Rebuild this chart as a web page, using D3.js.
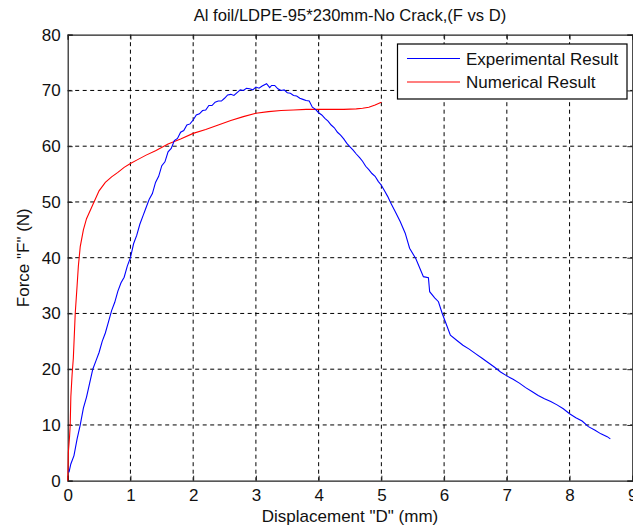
<!DOCTYPE html>
<html><head><meta charset="utf-8">
<script src="https://cdn.jsdelivr.net/npm/d3@7"></script>
<style>body{margin:0;background:#fff}svg{display:block}text{font-family:"Liberation Sans",Arial,sans-serif}</style>
</head><body><svg id="c" width="633" height="528"></svg>
<script>
const title = "Al foil/LDPE-95*230mm-No Crack,(F vs D)";
const xLabel = 'Displacement "D" (mm)';
const yLabel = 'Force "F" (N)';
const xTicks = [0,1,2,3,4,5,6,7,8,9];
const yTicks = [0,10,20,30,40,50,60,70,80];
const seriesNames = ["Experimental Result","Numerical Result"];
const seriesColors = ["#0000ff","#ff0000"];
const expX = [0.02,0.05,0.1,0.15,0.2,0.25,0.3,0.35,0.4,0.45,0.5,0.55,0.6,0.65,0.7,0.75,0.8,0.85,0.9,0.95,1.0,1.05,1.1,1.15,1.2,1.25,1.3,1.35,1.4,1.45,1.5,1.55,1.6,1.65,1.7,1.75,1.8,1.85,1.9,1.95,2.0,2.05,2.1,2.15,2.2,2.25,2.3,2.35,2.4,2.45,2.5,2.55,2.6,2.65,2.7,2.75,2.8,2.85,2.9,2.95,3.0,3.05,3.1,3.17,3.22,3.25,3.3,3.35,3.4,3.45,3.5,3.55,3.6,3.65,3.7,3.75,3.8,3.85,3.9,3.95,4.0,4.05,4.1,4.15,4.2,4.25,4.3,4.35,4.4,4.45,4.5,4.55,4.6,4.65,4.7,4.75,4.8,4.85,4.9,4.95,5.0,5.05,5.1,5.15,5.22,5.3,5.38,5.45,5.55,5.67,5.75,5.77,5.85,5.91,5.97,6.02,6.1,6.2,6.3,6.4,6.5,6.6,6.7,6.8,6.9,7.0,7.1,7.2,7.3,7.4,7.5,7.6,7.7,7.8,7.9,8.0,8.1,8.2,8.3,8.4,8.5,8.6,8.65];
const expY = [1.5,3,4.5,7.5,10,13,15,17.5,20,21.5,23,25,26.5,28.5,30.5,32,34,35.5,36.5,38.5,40,42.5,44,46,47.5,49,50.5,51.5,53.5,54.6,56.5,57.2,59,59.6,61,61.4,62.5,62.8,63.8,64.0,64.7,65.6,65.8,66.4,66.5,67.3,67.3,67.9,68.1,68.1,68.6,69.2,69.3,69.1,69.6,70.1,70.0,70.4,70.3,70.1,70.6,70.4,70.8,71.2,70.5,70.9,70.9,70.3,70.0,70.1,69.6,69.5,69.1,69.0,68.6,68.4,68.2,68.1,67.0,66.6,66.0,65.6,65.0,64.5,63.8,63.3,62.5,62.0,61.3,60.5,59.9,59.3,58.6,58.0,57.3,56.4,55.8,55.1,54.6,53.7,53.0,52.0,51.0,49.8,48.3,46.5,44.4,41.7,39.8,36.6,36.4,33.9,32.8,32.1,30.0,28.5,26.1,25.2,24.3,23.6,22.8,22.0,21.2,20.4,19.5,18.8,18.2,17.5,16.7,16.0,15.3,14.7,14.2,13.6,12.9,12.0,11.3,10.7,9.7,9.1,8.4,7.9,7.5];
const numX = [0,0.005,0.01,0.03,0.04,0.05,0.07,0.09,0.12,0.15,0.17,0.2,0.25,0.3,0.4,0.5,0.6,0.7,0.8,0.9,1.0,1.1,1.25,1.4,1.6,1.8,2.0,2.2,2.4,2.6,2.8,3.0,3.2,3.4,3.6,3.8,4.0,4.2,4.4,4.6,4.7,4.8,4.9,5.0];
const numY = [0,2,5,8,10,15,19,22,30,35,38.5,42,45,47,49.5,52,53.5,54.5,55.3,56.2,56.9,57.5,58.4,59.2,60.4,61.3,62.3,63.0,63.8,64.6,65.3,65.9,66.2,66.4,66.5,66.6,66.6,66.6,66.6,66.7,66.8,67.0,67.4,67.9];

const svg = d3.select("#c");
const L=67.7, R=632.3, T=34.7, B=480.7;
const x = d3.scaleLinear().domain([0,9]).range([L,R]);
const y = d3.scaleLinear().domain([0,80]).range([B,T]);
const FS = 17;

// grid
const g = svg.append("g");
g.selectAll(".gx").data(xTicks.slice(1,-1)).join("line")
 .attr("x1",d=>x(d)).attr("x2",d=>x(d)).attr("y1",T).attr("y2",B)
 .attr("stroke","#000").attr("stroke-width",1).attr("stroke-dasharray","4,3.5");
g.selectAll(".gy").data(yTicks.slice(1,-1)).join("line")
 .attr("y1",d=>y(d)).attr("y2",d=>y(d)).attr("x1",L).attr("x2",R)
 .attr("stroke","#000").attr("stroke-width",1).attr("stroke-dasharray","4,3.5");

// axes
const xa = svg.append("g").attr("transform",`translate(0,${B})`)
 .call(d3.axisBottom(x).tickValues(xTicks).tickSize(-5).tickPadding(8).tickFormat(d3.format("d")));
const xt = svg.append("g").attr("transform",`translate(0,${T})`)
 .call(d3.axisTop(x).tickValues(xTicks).tickSize(-5).tickFormat(""));
const ya = svg.append("g").attr("transform",`translate(${L},0)`)
 .call(d3.axisLeft(y).tickValues(yTicks).tickSize(-5).tickPadding(7).tickFormat(d3.format("d")));
const yr = svg.append("g").attr("transform",`translate(${R},0)`)
 .call(d3.axisRight(y).tickValues(yTicks).tickSize(-5).tickFormat(""));
[xa,xt,ya,yr].forEach(a=>{
  a.selectAll("path").attr("stroke","#222").attr("stroke-width",1.2);
  a.selectAll("line").attr("stroke","#222");
  a.selectAll("text").attr("font-size",FS).attr("fill","#111").attr("font-family","Liberation Sans, Arial, sans-serif");
});

// lines
const line = d3.line().x(d=>x(d[0])).y(d=>y(d[1]));
const plot = svg.append("g");
plot.append("path").datum(numX.map((v,i)=>[v,numY[i]])).attr("d",line)
 .attr("fill","none").attr("stroke",seriesColors[1]).attr("stroke-width",1.1);
plot.append("path").datum(expX.map((v,i)=>[v,expY[i]])).attr("d",line)
 .attr("fill","none").attr("stroke",seriesColors[0]).attr("stroke-width",1.1);

// title & labels
svg.append("text").attr("x",(L+R)/2).attr("y",21).attr("text-anchor","middle")
 .attr("font-size",16.6).attr("fill","#111").text(title);
svg.append("text").attr("x",(L+R)/2).attr("y",522).attr("text-anchor","middle")
 .attr("font-size",FS).attr("fill","#111").text(xLabel);
svg.append("text").attr("transform",`translate(28.5,${(T+B)/2}) rotate(-90)`).attr("text-anchor","middle")
 .attr("font-size",FS).attr("fill","#111").text(yLabel);

// legend
const lg = svg.append("g");
lg.append("rect").attr("x",397.5).attr("y",44).attr("width",229.5).attr("height",55)
 .attr("fill","#fff").attr("stroke","#000").attr("stroke-width",1.2);
seriesNames.forEach((n,i)=>{
  const yy = 58.5 + i*23.5;
  lg.append("line").attr("x1",407).attr("x2",460).attr("y1",yy).attr("y2",yy)
   .attr("stroke",seriesColors[i]).attr("stroke-width",1.1);
  lg.append("text").attr("x",466).attr("y",yy+6).attr("font-size",FS).attr("fill","#111").text(n);
});
</script></body></html>
